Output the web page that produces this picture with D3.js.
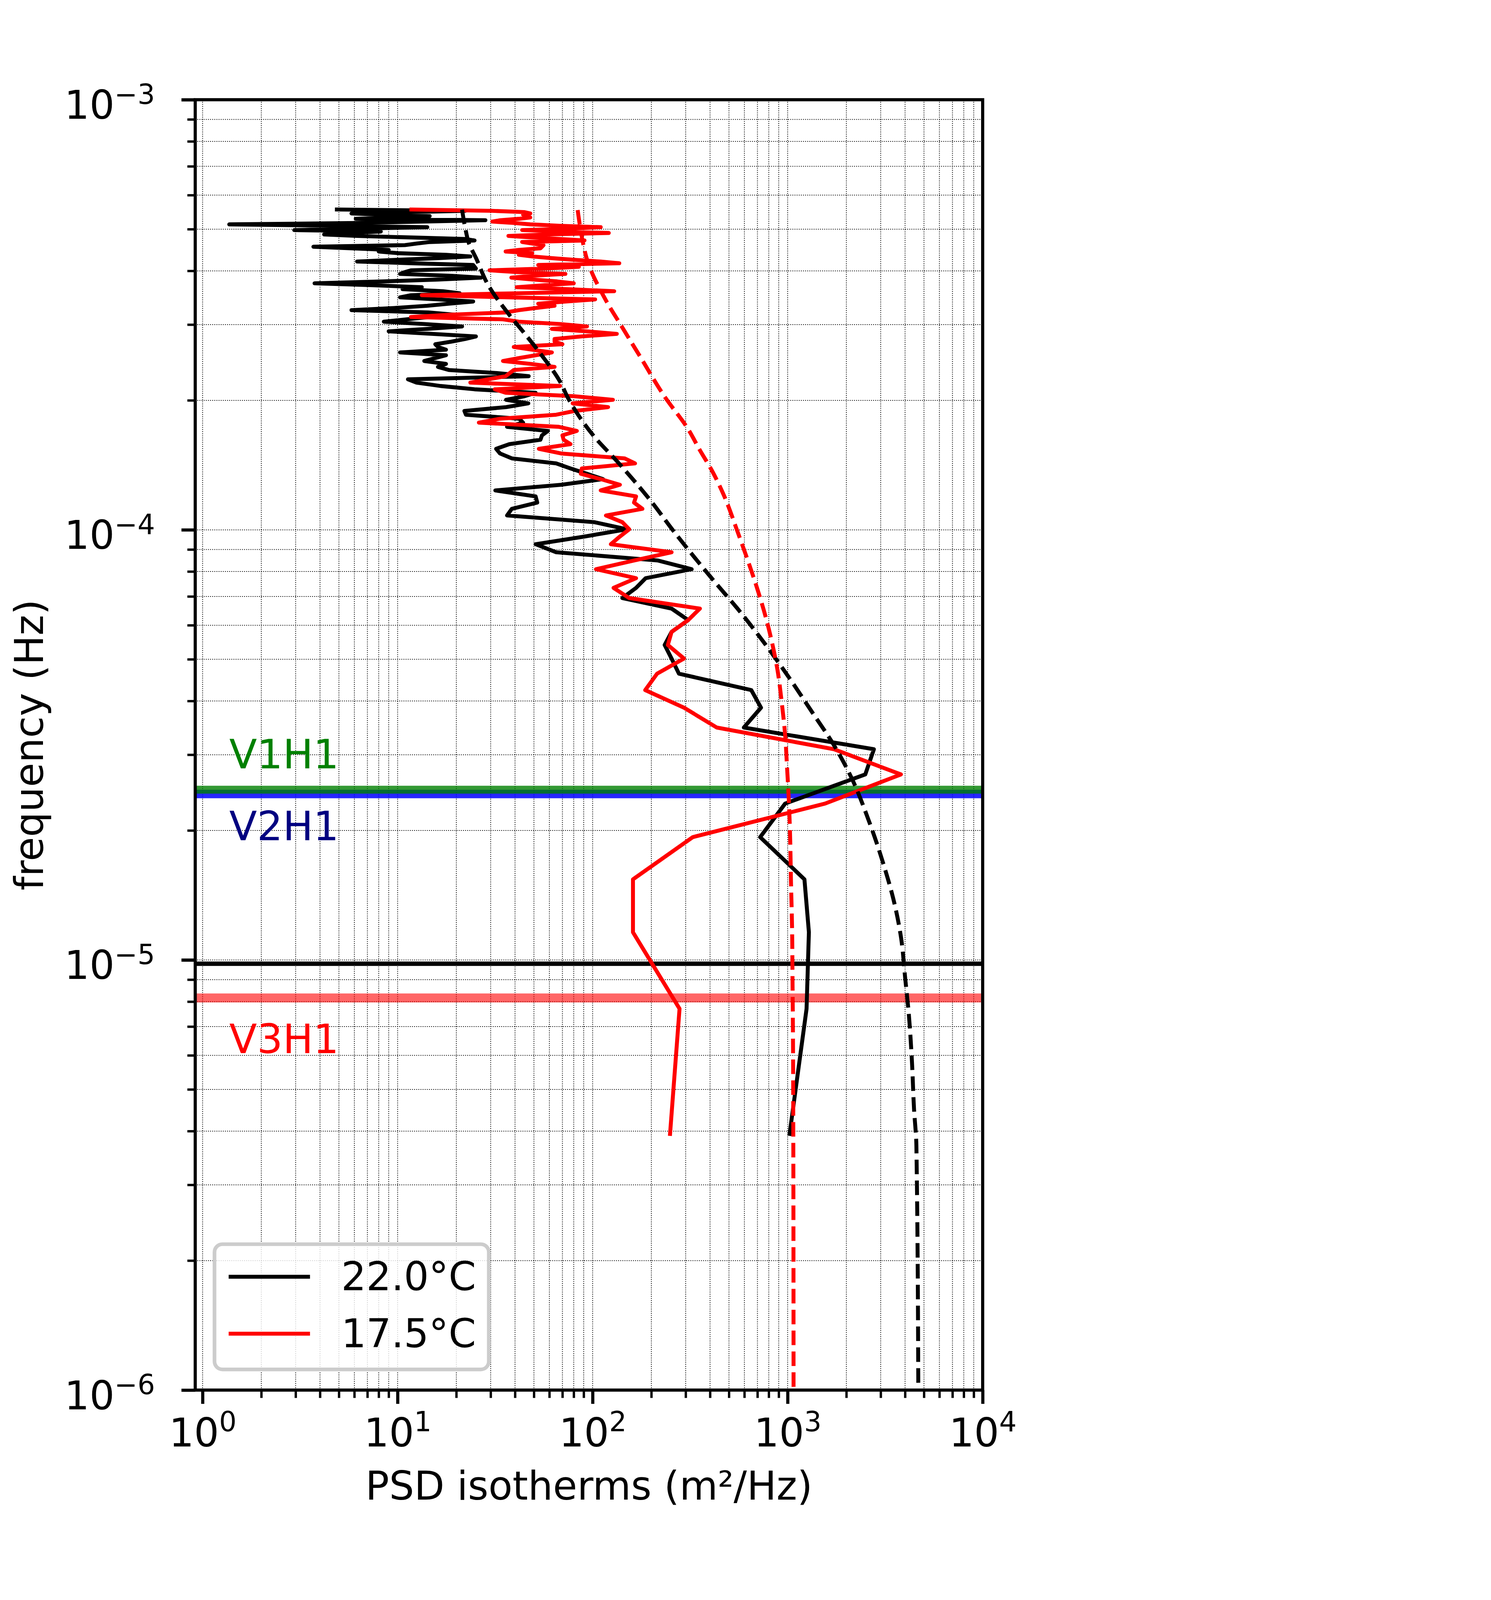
<!DOCTYPE html>
<html>
<head>
<meta charset="utf-8">
<script src="https://cdn.jsdelivr.net/npm/d3@7"></script>
<style>
html, body { margin: 0; padding: 0; background: #fff; overflow: hidden; }
svg { display: block; }
text { font-family: "DejaVu Sans", sans-serif; }
</style>
</head>
<body>
<script>
// frequency bins of the spectra (µHz)
const freqMicroHz = [
	3.9, 7.7, 11.6, 15.4, 19.3, 23.1, 27.0, 30.9, 34.7, 38.6,
	42.4, 46.3, 50.2, 54.0, 57.9, 61.7, 65.6, 69.4, 73.3, 77.2,
	81.0, 84.9, 88.7, 92.6, 96.5, 100.3, 104.2, 108.0, 111.9, 115.7,
	119.6, 123.5, 127.3, 131.2, 135.0, 138.9, 142.7, 146.6, 150.5, 154.3,
	158.2, 162.0, 165.9, 169.8, 173.6, 177.5, 181.3, 185.2, 189.0, 192.9,
	196.8, 200.6, 204.5, 208.3, 212.2, 216.0, 219.9, 223.8, 227.6, 231.5,
	235.3, 239.2, 243.1, 246.9, 250.8, 254.6, 258.5, 262.3, 266.2, 270.1,
	273.9, 277.8, 281.6, 285.5, 289.4, 293.2, 297.1, 300.9, 304.8, 308.6,
	312.5, 316.4, 320.2, 324.1, 327.9, 331.8, 335.6, 339.5, 343.4, 347.2,
	351.1, 354.9, 358.8, 362.7, 366.5, 370.4, 374.2, 378.1, 381.9, 385.8,
	389.7, 393.5, 397.4, 401.2, 405.1, 408.9, 412.8, 416.7, 420.5, 424.4,
	428.2, 432.1, 436.0, 439.8, 443.7, 447.5, 451.4, 455.2, 459.1, 463.0,
	466.8, 470.7, 474.5, 478.4, 482.3, 486.1, 490.0, 493.8, 497.7, 501.5,
	505.4, 509.3, 513.1, 517.0, 520.8, 524.7, 528.6, 532.4, 536.3, 540.1,
	544.0, 547.8, 551.7, 555.6
];

// PSD of the 22.0°C isotherm (m²/Hz)
const psd22 = [
	1020, 1250, 1285, 1219, 723, 971, 2500, 2768, 596, 730,
	651, 277, 254, 234, 254, 309, 254, 142, 167, 187,
	322, 215, 65, 51, 91, 150, 102, 36.4, 38.5, 52,
	51, 31.7, 69, 113, 93.5, 77, 65, 38.5, 33.5, 32,
	37.4, 54, 55, 59, 36.4, 44, 42, 22.4, 22, 36,
	46.8, 36, 44.8, 51, 24.8, 16.6, 12.5, 11.3, 47, 32.3,
	18.3, 16.1, 17.7, 13.7, 15.6, 17.7, 10.3, 17.7, 16.1, 15.6,
	18.9, 22.2, 25.2, 15.1, 9.0, 14.2, 21.4, 13.7, 8.5, 11.1,
	14.6, 19.5, 14.4, 5.8, 9.6, 14.2, 18.3, 24.4, 16.1, 10.3,
	11.7, 20.8, 17.1, 10.6, 13.3, 7.5, 3.75, 8.5, 16.1, 26.8,
	18.9, 10.3, 10.9, 11.7, 25.2, 24.8, 24.4, 11.7, 6.2, 10,
	16.1, 23.6, 17.7, 10, 8.0, 9.0, 5.8, 3.7, 10.9, 12.5,
	14.6, 24.8, 22.2, 11.7, 6.2, 4.2, 5.8, 8.2, 2.95, 6.2,
	14.2, 4.5, 1.37, 6.2, 13.7, 28.2, 6.1, 10, 14.6, 8.5,
	5.8, 11.7, 22.2, 4.77
];

// PSD of the 17.5°C isotherm (m²/Hz)
const psd175 = [
	249, 279, 161, 161, 326, 1556, 3810, 1727, 433, 294,
	186, 214, 294, 243, 254, 309, 355, 154, 128, 167,
	104, 164, 254, 124, 138, 154, 142, 117, 180, 163,
	167, 110, 138, 110, 87, 88, 165, 146, 69, 53,
	77, 71, 70, 83, 67, 26.1, 33.5, 65, 81, 120,
	79, 127, 80, 35.8, 31.5, 68, 23.6, 29.1, 35.8, 37.6,
	39.4, 63.8, 47.9, 34.7, 41.8, 51, 61.8, 49, 39.4, 70,
	63.8, 63.8, 87.7, 133, 93.5, 61.8, 93.5, 68, 41.8, 34.7,
	11.7, 18.9, 35.8, 41.8, 51, 63.8, 52.6, 72.5, 103, 37,
	13.3, 41.8, 129, 74.8, 40.8, 56, 80, 65.8, 49, 38.3,
	49, 72.5, 40.8, 29.6, 58, 85, 52.6, 137, 110, 80,
	61.8, 49, 41.8, 49, 35.8, 41.8, 54, 55, 56, 49,
	43.5, 90.8, 68, 49, 37, 58, 121, 68, 43.5, 80,
	110, 68, 47.9, 39.4, 30.6, 33.6, 41.8, 47.9, 46, 44,
	47.9, 44.8, 30.6, 11.5
];

// model spectra (dashed), frequency in µHz
const model22Freq = [555, 504.5, 464, 429, 371, 318, 286, 256, 221, 202, 165, 144, 117, 99.1, 84.6, 74.9, 65.8, 56.2, 44.8, 37.7, 31.6, 26.6, 21.2, 16.6, 13.5, 11.3, 9.03, 7.59, 5.84, 4.50, 3.71, 1.0];
const model22Psd = [21.4, 22.2, 23.2, 25.2, 29.1, 37.0, 44.8, 54.3, 68.1, 75.0, 101.6, 134, 198, 261, 345, 431, 550, 723, 1035, 1334, 1726, 2118, 2594, 3112, 3532, 3811, 4009, 4169, 4335, 4446, 4571, 4677];
const model175Freq = [554, 464, 425.6, 392.8, 360.2, 332.4, 302.7, 275.4, 254.1, 204.0, 171.4, 153.1, 137.9, 121.1, 99.8, 56.2, 47.2, 39.6, 33.3, 28.0, 23.5, 19.8, 15.2, 11.7, 9.03, 6.95, 3.71, 1.0];
const model175Psd = [83.8, 89.3, 93.5, 100, 109.9, 121, 137.4, 156, 174, 234, 309, 355, 407, 468, 550, 820, 887, 933, 971, 993, 1014, 1028, 1040, 1054, 1059, 1064, 1069, 1072];

// mode frequencies (Hz)
const modeNames = ['V1H1', 'V2H1', 'V3H1'];
const modeFreqs = [2.488e-5, 2.432e-5, 8.16e-6];
const modeLineColors = ['green', 'blue', 'red'];
const modeTextColors = ['green', 'navy', 'red'];
const inertialFreq = 9.8e-6;

const legendLabels = ['22.0°C', '17.5°C'];
const seriesColors = ['black', 'red'];
const xMajor = [1, 10, 100, 1000, 10000];
const yMajor = [1e-6, 1e-5, 1e-4, 1e-3];

const svgSize = {width: 3816, height: 5648};
const plot = {left: 689, right: 3468, top: 352, bottom: 4907};
const pt = 13.89;

// fit the whole figure into the window
const fit = Math.min(1, window.innerWidth / svgSize.width, window.innerHeight / svgSize.height);

const svg = d3.select('body').append('svg')
	.attr('width', svgSize.width * fit)
	.attr('height', svgSize.height * fit)
	.attr('viewBox', `0 0 ${svgSize.width} ${svgSize.height}`);

svg.append('rect').attr('width', svgSize.width).attr('height', svgSize.height).attr('fill', 'white');

const x = d3.scaleLog().domain([0.9167, 1e4]).range([plot.left, plot.right]);
const y = d3.scaleLog().domain([1e-6, 1e-3]).range([plot.bottom, plot.top]);

const minorOf = (decades) => decades.flatMap(d => d3.range(2, 10).map(m => m * d));
const xMinor = minorOf([1, 10, 100, 1000]);
const yMinor = minorOf([1e-6, 1e-5, 1e-4]);

// grid
const grid = svg.append('g')
	.attr('stroke', 'black')
	.attr('stroke-width', 0.2 * pt)
	.attr('stroke-dasharray', '3,4.5');

grid.selectAll('line.gx')
	.data(xMajor.concat(xMinor))
	.enter().append('line')
	.attr('x1', d => x(d)).attr('x2', d => x(d))
	.attr('y1', plot.top).attr('y2', plot.bottom);

grid.selectAll('line.gy')
	.data(yMajor.concat(yMinor))
	.enter().append('line')
	.attr('x1', plot.left).attr('x2', plot.right)
	.attr('y1', d => y(d)).attr('y2', d => y(d));

svg.append('clipPath').attr('id', 'clip')
	.append('rect')
	.attr('x', plot.left).attr('y', plot.top)
	.attr('width', plot.right - plot.left).attr('height', plot.bottom - plot.top);

const area = svg.append('g').attr('clip-path', 'url(#clip)');

// mode lines (V2H1 under V1H1)
const modeStyle = [
	{width: 28, opacity: 0.8},
	{width: 30, opacity: 0.85},
	{width: 32, opacity: 0.6}
];
[1, 0, 2].forEach(i => {
	area.append('line')
		.attr('x1', plot.left).attr('x2', plot.right)
		.attr('y1', y(modeFreqs[i])).attr('y2', y(modeFreqs[i]))
		.attr('stroke', modeLineColors[i])
		.attr('stroke-width', modeStyle[i].width)
		.attr('stroke-opacity', modeStyle[i].opacity);
});

area.append('line')
	.attr('x1', plot.left).attr('x2', plot.right)
	.attr('y1', y(inertialFreq)).attr('y2', y(inertialFreq))
	.attr('stroke', 'black')
	.attr('stroke-width', 1.1 * pt);

const line = d3.line()
	.x(d => x(d[1]))
	.y(d => y(d[0] * 1e-6));

const measured = [psd22, psd175];
measured.forEach((vals, i) => {
	area.append('path')
		.datum(freqMicroHz.map((f, k) => [f, vals[k]]))
		.attr('d', line)
		.attr('fill', 'none')
		.attr('stroke', seriesColors[i])
		.attr('stroke-width', pt)
		.attr('stroke-linejoin', 'round');
});

const smooth = d3.line()
	.x(d => x(d[1]))
	.y(d => y(d[0] * 1e-6))
	.curve(d3.curveMonotoneY);

const models = [[model22Freq, model22Psd], [model175Freq, model175Psd]];
models.forEach((m, i) => {
	area.append('path')
		.datum(m[0].map((f, k) => [f, m[1][k]]))
		.attr('d', smooth)
		.attr('fill', 'none')
		.attr('stroke', seriesColors[i])
		.attr('stroke-width', pt)
		.attr('stroke-dasharray', `${3.7 * pt},${1.6 * pt}`);
});

// mode labels (baseline frequencies)
const labelFreqs = [2.79e-5, 1.90e-5, 6.07e-6];
modeNames.forEach((name, i) => {
	svg.append('text')
		.attr('x', x(1.37))
		.attr('y', y(labelFreqs[i]))
		.attr('fill', modeTextColors[i])
		.attr('font-size', 143)
		.text(name);
});

// frame
svg.append('rect')
	.attr('x', plot.left).attr('y', plot.top)
	.attr('width', plot.right - plot.left).attr('height', plot.bottom - plot.top)
	.attr('fill', 'none')
	.attr('stroke', 'black')
	.attr('stroke-width', 0.8 * pt);

// axes
const supLabel = (sel, v) => {
	const e = Math.round(Math.log10(v));
	sel.text('10');
	sel.append('tspan')
		.attr('dy', -53)
		.attr('font-size', 97)
		.text(String(e).replace('-', '\u2212'));
};

const xAxis = svg.append('g')
	.attr('transform', `translate(0, ${plot.bottom})`)
	.call(d3.axisBottom(x).tickValues(xMajor).tickSize(3.5 * pt).tickSizeOuter(0).tickFormat(''));
xAxis.append('g')
	.call(d3.axisBottom(x).tickValues(xMinor).tickSize(2 * pt).tickSizeOuter(0).tickFormat(''))
	.selectAll('line').attr('stroke-width', 0.6 * pt);
xAxis.selectAll('.domain').remove();
xAxis.selectAll(':scope > .tick line').attr('stroke-width', 0.8 * pt);
xAxis.selectAll(':scope > .tick').each(function(d) {
	const t = d3.select(this).append('text')
		.attr('y', 199)
		.attr('fill', 'black')
		.attr('font-size', 139)
		.attr('text-anchor', 'middle');
	supLabel(t, d);
});

const yAxis = svg.append('g')
	.attr('transform', `translate(${plot.left}, 0)`)
	.call(d3.axisLeft(y).tickValues(yMajor).tickSize(3.5 * pt).tickSizeOuter(0).tickFormat(''));
yAxis.append('g')
	.call(d3.axisLeft(y).tickValues(yMinor).tickSize(2 * pt).tickSizeOuter(0).tickFormat(''))
	.selectAll('line').attr('stroke-width', 0.6 * pt);
yAxis.selectAll('.domain').remove();
yAxis.selectAll(':scope > .tick line').attr('stroke-width', 0.8 * pt);
yAxis.selectAll(':scope > .tick').each(function(d) {
	const t = d3.select(this).append('text')
		.attr('x', -142)
		.attr('y', 67)
		.attr('fill', 'black')
		.attr('font-size', 139)
		.attr('text-anchor', 'end');
	supLabel(t, d);
});

svg.append('text')
	.attr('x', (plot.left + plot.right) / 2)
	.attr('y', 5293)
	.attr('text-anchor', 'middle')
	.attr('font-size', 139)
	.text('PSD isotherms (m²/Hz)');

svg.append('text')
	.attr('transform', `translate(152, ${(plot.top + plot.bottom) / 2}) rotate(-90)`)
	.attr('text-anchor', 'middle')
	.attr('font-size', 139)
	.text('frequency (Hz)');

// legend
const legend = svg.append('g');
legend.append('rect')
	.attr('x', 757).attr('y', 4392)
	.attr('width', 968).attr('height', 442)
	.attr('rx', 28)
	.attr('fill', 'white').attr('fill-opacity', 0.8)
	.attr('stroke', '#cccccc')
	.attr('stroke-width', 13);

legendLabels.forEach((lab, i) => {
	const ly = 4507 + i * 201;
	legend.append('line')
		.attr('x1', 807).attr('x2', 1094)
		.attr('y1', ly).attr('y2', ly)
		.attr('stroke', seriesColors[i])
		.attr('stroke-width', pt);
	legend.append('text')
		.attr('x', 1204).attr('y', ly + 48)
		.attr('font-size', 139)
		.text(lab);
});
</script>
</body>
</html>
